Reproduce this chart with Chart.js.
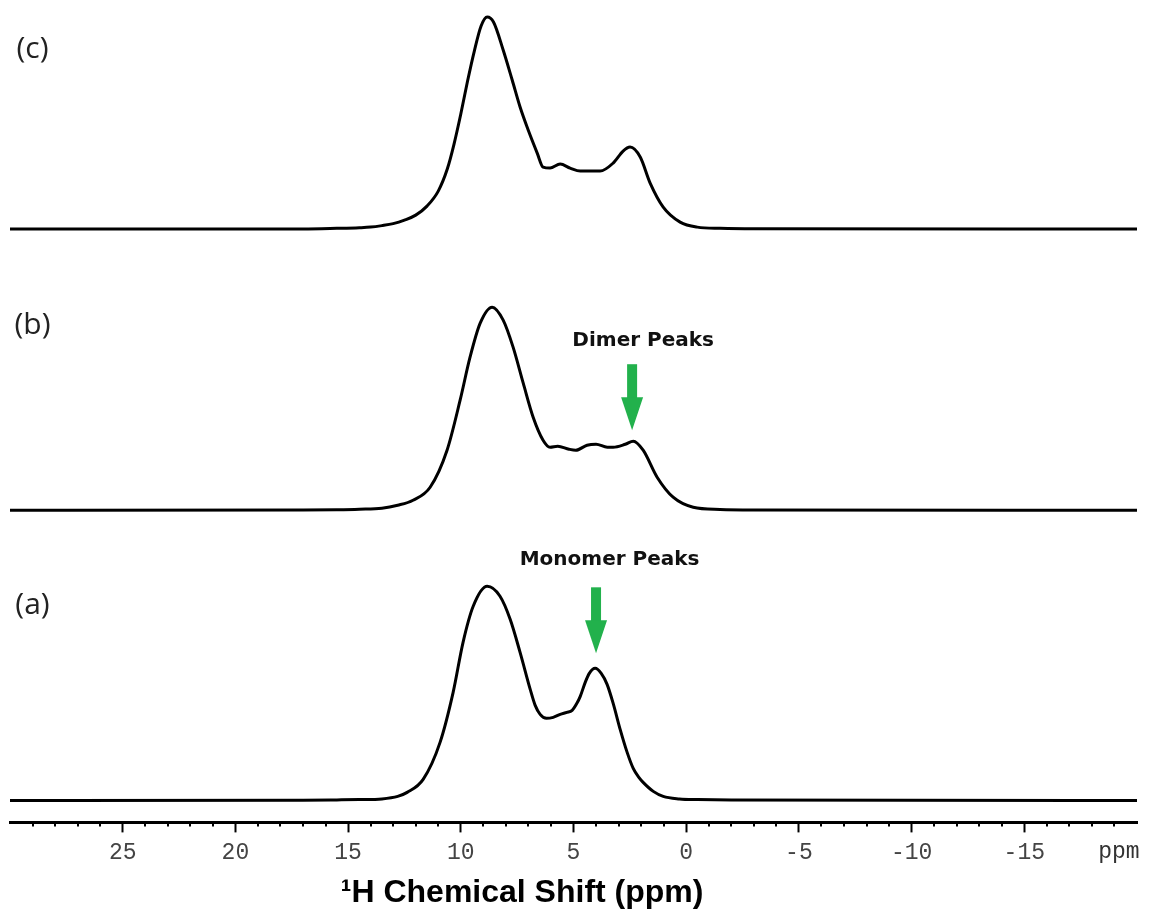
<!DOCTYPE html>
<html>
<head>
<meta charset="utf-8">
<script src="https://cdn.jsdelivr.net/npm/chart.js@4.4.1/dist/chart.umd.min.js"></script>
<style>
    html, body { margin: 0; padding: 0; background: #fff; }
</style>
</head>
<body>
<canvas id="nmr" width="1152" height="913"></canvas>
<script>
// 1H spectra, intensity in arbitrary units above each trace's baseline
const ppmA = [30, 17, 15.5, 14.5, 13.5, 12.8, 12.38, 11.67, 10.92, 10.34, 9.9, 9.45, 8.83, 8.26, 7.81, 7.37, 6.92, 6.7, 6.48, 6.2, 5.9, 5.59, 5.3, 5.06, 4.85, 4.7, 4.48, 4.3, 4.04, 3.77, 3.51, 3.24, 2.93, 2.62, 2.35, 2.1, 1.91, 1.46, 1.02, 0.3, -0.5, -2, -20];
const intA = [0, 0.2, 0.5, 0.8, 1.5, 4, 8, 21, 58, 108, 158, 194, 214, 204, 181, 148, 111, 95, 86, 82, 83, 86, 88, 90, 97, 104, 118, 127, 132, 127, 116, 97, 71, 48, 32, 23, 18, 9, 4, 1.5, 0.8, 0.3, 0];

const ppmB = [30, 17, 15.5, 14.5, 13.5, 12.8, 12.12, 11.36, 10.61, 10.03, 9.59, 9.14, 8.61, 8.12, 7.68, 7.23, 6.79, 6.35, 6.04, 5.7, 5.2, 4.9, 4.4, 4.0, 3.5, 3.24, 2.7, 2.35, 1.91, 1.29, 0.58, -0.31, -1.5, -3, -20];
const intB = [0, 0.2, 0.5, 1, 2, 5, 10, 23, 60, 110, 153, 187, 203, 190, 163, 127, 93, 70, 63, 64, 61, 60, 65, 66, 63, 63, 66, 69, 60, 33, 13, 3, 0.8, 0.3, 0];

const ppmC = [30, 17, 15.5, 14.5, 14, 13.5, 13, 12.5, 12, 11.5, 11, 10.6, 10.3, 10, 9.7, 9.4, 9.1, 8.83, 8.55, 8.12, 7.72, 7.37, 7.01, 6.61, 6.35, 6.04, 5.59, 5.15, 4.7, 3.82, 3.24, 2.8, 2.49, 2.04, 1.6, 1.02, 0.27, -0.49, -1.5, -3, -20];
const intC = [0, 0.2, 0.8, 1.4, 2, 3.5, 5.5, 9, 14, 23, 38, 60, 85, 115, 148, 178, 203, 212, 207, 179, 149, 122, 99, 76, 62, 61, 65, 61, 58, 58, 66, 78, 82, 72, 46, 22, 7, 2, 0.8, 0.3, 0];

const xTicks = [25, 20, 15, 10, 5, 0, -5, -10, -15];
const axisTitle = '\u00b9H Chemical Shift (ppm)';
const axisTitlePpm = 7.28;

// panel tags and arrow callouts
const panelTags = ['(c)', '(b)', '(a)'];
const panelAxes = ['yC', 'yB', 'yA'];
const panelTagPpm = [29.0, 29.0, 29.0];
const panelTagInt = [180, 185, 195];

const calloutText = ['Dimer Peaks', 'Monomer Peaks'];
const calloutAxis = ['yB', 'yA'];
const calloutPpm = [2.4, 4.0];
const calloutTipInt = [80, 147];
const calloutTextPpm = [1.91, 3.4];
const calloutTextInt = [169, 240];

const toPoints = (xs, ys) => xs.map((x, i) => ({ x: x, y: ys[i] }));

const traceStyle = {
    borderColor: '#000',
    borderWidth: 3,
    pointRadius: 0,
    fill: false,
    cubicInterpolationMode: 'monotone'
};

// minor ticks every 1 ppm, unit tag and axis title below the scale
const axisExtras = {
    id: 'axisExtras',
    afterDraw(chart) {
        const x = chart.scales.x;
        const ctx = chart.ctx;
        ctx.save();
        ctx.strokeStyle = '#000';
        ctx.lineWidth = 2;
        for (let v = -19; v <= 29; v++) {
            if (v % 5 === 0) continue;
            const px = Math.round(x.getPixelForValue(v));
            ctx.beginPath();
            ctx.moveTo(px, x.top);
            ctx.lineTo(px, x.top + 4);
            ctx.stroke();
        }
        ctx.fillStyle = '#333';
        ctx.font = '23px "Liberation Mono", monospace';
        ctx.textAlign = 'center';
        ctx.textBaseline = 'middle';
        ctx.fillText('ppm', x.getPixelForValue(-19.2), x.top + 30);

        ctx.fillStyle = '#000';
        ctx.font = 'bold 32px "Liberation Sans", Arial, sans-serif';
        ctx.fillText(axisTitle, x.getPixelForValue(axisTitlePpm), x.top + 71);
        ctx.restore();
    }
};

const callouts = {
    id: 'callouts',
    afterDatasetsDraw(chart) {
        const ctx = chart.ctx;
        const x = chart.scales.x;
        ctx.save();

        // panel tags
        ctx.fillStyle = '#222';
        ctx.font = '30px "Open Sans", sans-serif';
        ctx.textAlign = 'center';
        ctx.textBaseline = 'middle';
        panelTags.forEach((t, i) => {
            const y = chart.scales[panelAxes[i]];
            ctx.fillText(t, x.getPixelForValue(panelTagPpm[i]), y.getPixelForValue(panelTagInt[i]));
        });

        // green arrows with their labels
        calloutText.forEach((t, i) => {
            const y = chart.scales[calloutAxis[i]];
            const cx = x.getPixelForValue(calloutPpm[i]);
            const tip = y.getPixelForValue(calloutTipInt[i]);
            const top = tip - 66;
            const head = tip - 33;
            ctx.fillStyle = '#22b14c';
            ctx.fillRect(cx - 5, top, 10, head - top + 1);
            ctx.beginPath();
            ctx.moveTo(cx - 11, head);
            ctx.lineTo(cx + 11, head);
            ctx.lineTo(cx, tip);
            ctx.closePath();
            ctx.fill();

            ctx.fillStyle = '#111';
            ctx.font = 'bold 20px "DejaVu Sans", sans-serif';
            ctx.fillText(t, x.getPixelForValue(calloutTextPpm[i]), y.getPixelForValue(calloutTextInt[i]));
        });
        ctx.restore();
    }
};

new Chart(document.getElementById('nmr'), {
    type: 'line',
    data: {
        datasets: [
            { ...traceStyle, label: '(c)', data: toPoints(ppmC, intC), yAxisID: 'yC' },
            { ...traceStyle, label: '(b)', data: toPoints(ppmB, intB), yAxisID: 'yB' },
            { ...traceStyle, label: '(a)', data: toPoints(ppmA, intA), yAxisID: 'yA' }
        ]
    },
    options: {
        responsive: false,
        animation: false,
        layout: { padding: { left: 10, right: 15, top: 0, bottom: 39 } },
        plugins: { legend: { display: false }, tooltip: { enabled: false } },
        scales: {
            x: {
                type: 'linear',
                reverse: true,
                min: -20,
                max: 30,
                afterBuildTicks: (axis) => {
                    axis.ticks = [30].concat(xTicks, [-20]).map(v => ({ value: v }));
                },
                ticks: {
                    autoSkip: false,
                    maxRotation: 0,
                    padding: 7,
                    color: '#444',
                    font: { family: '"Liberation Mono", monospace', size: 23 },
                    callback: (v) => xTicks.includes(v) ? String(v) : ''
                },
                grid: {
                    drawOnChartArea: false,
                    drawTicks: true,
                    tickLength: 10,
                    tickWidth: 2,
                    tickColor: (c) => (c.tick && xTicks.includes(c.tick.value)) ? '#000' : 'rgba(0,0,0,0)'
                },
                border: { display: true, color: '#000', width: 3 }
            },
            // stacked panels, bottom one first
            yA: { type: 'linear', display: false, stack: 'spectra', stackWeight: 1, min: -22, max: 252 },
            yB: { type: 'linear', display: false, stack: 'spectra', stackWeight: 1, min: -38, max: 236 },
            yC: { type: 'linear', display: false, stack: 'spectra', stackWeight: 1, min: -45, max: 229 }
        }
    },
    plugins: [axisExtras, callouts]
});
</script>
</body>
</html>
